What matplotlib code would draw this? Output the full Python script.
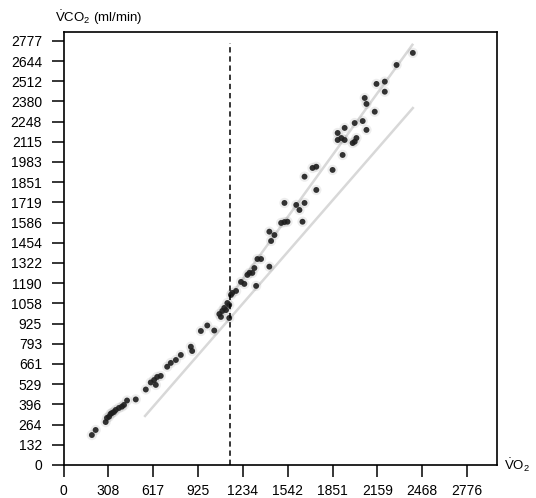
import matplotlib
matplotlib.use("Agg")
import matplotlib.pyplot as plt

plt.rcParams["font.family"] = ["Liberation Sans", "DejaVu Sans"]
plt.rcParams["mathtext.fontset"] = "custom"
plt.rcParams["mathtext.rm"] = "Liberation Sans"
plt.rcParams["mathtext.it"] = "Liberation Sans:italic"

# VO2 / VCO2 breath samples (ml/min)
vo2 = [195, 221, 290, 299, 313, 324, 333, 347, 359, 381, 402, 416, 437, 497,
       566, 600, 623, 635, 644, 669, 713, 738, 773, 807, 876, 885, 945, 989,
       1037, 1072, 1083, 1092, 1106, 1118, 1127, 1140, 1140,
       1152, 1161, 1187, 1221, 1244, 1265, 1279, 1299, 1313, 1325, 1334, 1359,
       1416, 1416, 1428, 1451, 1497, 1520, 1541, 1520, 1601, 1623, 1658, 1644,
       1658, 1713, 1739, 1739, 1851, 1920, 1886, 1886, 1934, 1934, 1911, 1989,
       2003, 2015, 2003, 2058, 2084, 2072, 2084, 2141, 2153, 2210, 2210, 2291,
       2403]
vco2 = [196, 229, 281, 308, 316, 334, 340, 347, 360, 373, 382, 393, 422, 429,
        494, 540, 556, 524, 576, 583, 643, 668, 687, 720, 774, 746, 877, 913,
        880, 988, 969, 1008, 1028, 1014, 1060, 1047, 962,
        1113, 1126, 1139, 1198, 1185, 1244, 1257, 1257, 1289, 1172, 1348, 1348,
        1298, 1527, 1466, 1505, 1584, 1590, 1592, 1715, 1702, 1669, 1715, 1592,
        1887, 1944, 1952, 1800, 1931, 2029, 2173, 2127, 2206, 2127, 2140, 2107,
        2116, 2140, 2238, 2251, 2193, 2402, 2363, 2312, 2494, 2509, 2443, 2618,
        2697]

# regression lines (end points) and threshold
fit_low_x = [561, 2403]
fit_low_y = [321, 2336]
fit_up_x = [1144, 2400]
fit_up_y = [1100, 2750]
threshold = 1145

xticks = [0, 308, 617, 925, 1234, 1542, 1851, 2159, 2468, 2776]
yticks = [0, 132, 264, 396, 529, 661, 793, 925, 1058, 1190, 1322, 1454, 1586,
          1719, 1851, 1983, 2115, 2248, 2380, 2512, 2644, 2777]

fig = plt.figure(figsize=(5.36, 4.98), dpi=100)
ax = fig.add_axes([0.1185, 0.0663, 0.8090, 0.8695])

ax.plot(fit_low_x, fit_low_y, color="#d8d8d8", lw=1.8, zorder=1)
ax.plot(fit_up_x, fit_up_y, color="#d8d8d8", lw=1.8, zorder=1)
ax.scatter(vo2, vco2, s=55, color="#888888", alpha=0.15, edgecolors="none", zorder=2)
ax.scatter(vo2, vco2, s=18, color="#1e1e1e", alpha=0.9, edgecolors="none", zorder=3)
ax.plot([threshold, threshold], [0, 2760], color="black", ls=(0, (3.5, 2.5)), lw=1.1, zorder=4)

ax.set_xlim(0, 2983)
ax.set_ylim(0, 2834)
ax.set_xticks(xticks)
ax.set_yticks(yticks)
ax.set_xticklabels([str(v) for v in xticks])
ax.set_yticklabels([str(v) for v in yticks])
ax.tick_params(direction="out", length=8.5, width=1.1, labelsize=10, colors="black")
ax.tick_params(axis="x", pad=5.5)
ax.tick_params(axis="y", pad=7)
for s in ax.spines.values():
    s.set_linewidth(1.2)

fig.text(0.102, 0.965, r"$\dot{\mathrm{V}}\mathrm{CO}_2$ (ml/min)", fontsize=9.5, ha="left", va="center")
fig.text(0.940, 0.066, r"$\dot{\mathrm{V}}\mathrm{O}_2$", fontsize=9.5, ha="left", va="center")

fig.savefig("out.png", dpi=100)
